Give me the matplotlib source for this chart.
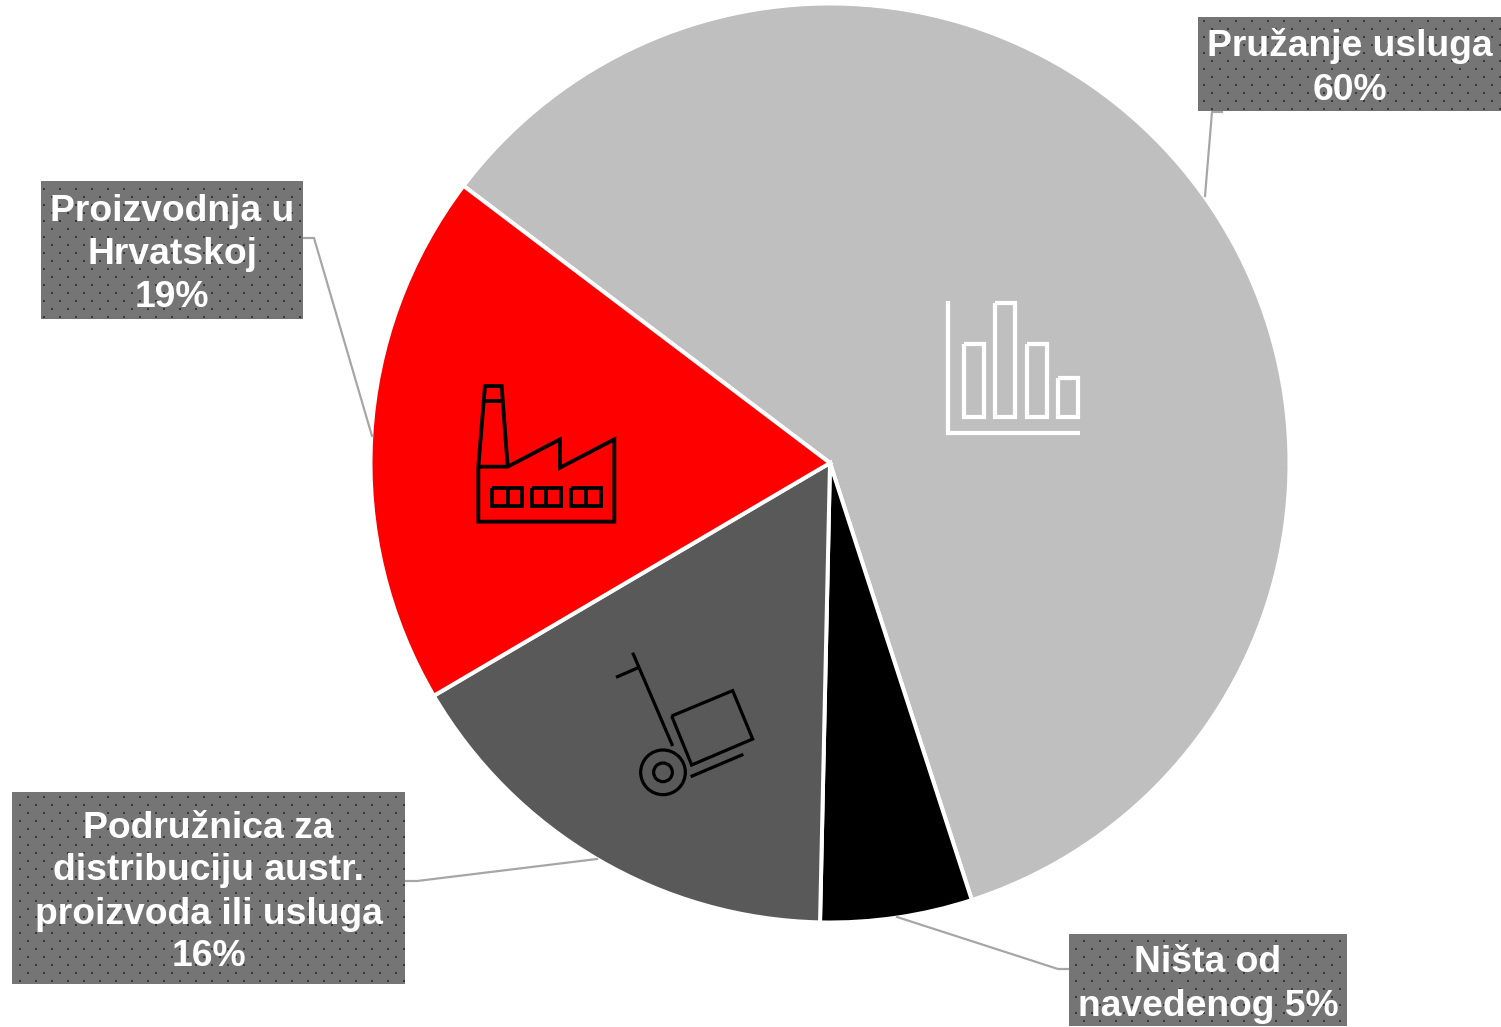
import numpy as np
import matplotlib
matplotlib.use("Agg")
import matplotlib.pyplot as plt
from matplotlib.patches import Rectangle, Circle

# Data
categories = ["Pružanje usluga", "Ništa od navedenog", "Podružnica za distribuciju", "Proizvodnja u Hrvatskoj"]
values = [59.7, 5.34, 16.2, 18.76]
colors = ["#bfbfbf", "#000000", "#595959", "#ff0000"]
label_texts = ["Pružanje usluga\n60%", "Ništa od\nnavedenog 5%",
               "Podružnica za\ndistribuciju austr.\nproizvoda ili usluga\n16%",
               "Proizvodnja u\nHrvatskoj\n19%"]
label_boxes = [(1198, 17, 1501, 111), (1069, 934, 1347, 1026),
               (12, 792, 405, 984), (41, 181, 303, 319)]
leaders = [[(1205, 196), (1212, 112), (1222, 112)],
           [(897, 917), (1058, 969), (1069, 969)],
           [(597, 859), (417, 881), (405, 881)],
           [(372, 436), (314, 238), (303, 238)]]

W, H = 1501, 1027
fig = plt.figure(figsize=(W / 100, H / 100), dpi=100, facecolor="white")
ax = fig.add_axes([0, 0, 1, 1])
px = 0.72  # points per pixel

ax.pie(values, colors=colors, center=(830, 463), radius=459.5, startangle=-142.9,
       counterclock=True, wedgeprops=dict(edgecolor="white", linewidth=4 * px))
ax.set_xlim(0, W)
ax.set_ylim(H, 0)
ax.set_aspect("equal")
ax.axis("off")


def path(points, off, color, lw, closed=False):
    pts = [(off[0] + x / 3, off[1] + y / 3) for x, y in points]
    if closed:
        pts.append(pts[0])
    ax.plot(*zip(*pts), color=color, lw=lw * px, solid_joinstyle="miter",
            solid_capstyle="butt", zorder=5)


# factory icon
o = (460, 370)
c = "black"
path([(55, 290), (75, 48), (125, 48), (143, 290)], o, c, 3.8)
path([(68, 92), (130, 92)], o, c, 3.8)
path([(55, 290), (55, 455), (463, 455), (463, 208), (300, 293), (300, 208), (143, 290)], o, c, 3.8, True)
for a, b, d in [(97, 185, 143), (215, 303, 259), (334, 422, 378)]:
    path([(a, 355), (b, 355), (b, 407), (a, 407)], o, c, 3.8, True)
    path([(d, 355), (d, 407)], o, c, 3.8)

# trolley icon
o = (600, 640)
path([(98, 38), (218, 318)], o, c, 3.2)
path([(48, 112), (115, 83)], o, c, 3.2)
path([(215, 228), (398, 152), (458, 297), (275, 375)], o, c, 3.2, True)
path([(272, 410), (430, 343)], o, c, 3.2)
for r in (67, 28):
    ax.add_patch(Circle((o[0] + 189 / 3, o[1] + 397 / 3), r / 3, fill=False,
                        edgecolor=c, lw=3.2 * px, zorder=5))

# bar chart icon
o = (930, 290)
c = "white"
path([(54, 32), (54, 429), (450, 429)], o, c, 4.2)
for a, b, t in [(101, 161, 162), (196, 255, 38), (290, 350, 162), (385, 445, 263)]:
    path([(a, t), (b, t), (b, 382), (a, 382)], o, c, 4.2, True)

# leaders
for line in leaders:
    ax.plot(*zip(*line), color="#a6a6a6", lw=2.2 * px, zorder=3, solid_joinstyle="miter")

# label boxes with dotted pattern
for (x0, y0, x1, y1), txt in zip(label_boxes, label_texts):
    ax.add_patch(Rectangle((x0, y0), x1 - x0, y1 - y0, facecolor="#757575", edgecolor="none", zorder=6))
    dx, dy = [], []
    for xr, yr in [(3, 4), (11, 12)]:
        xs = np.arange(x0 - (x0 % 16) + xr, x1, 16)
        ys = np.arange(y0 - (y0 % 16) + yr, y1, 16)
        xs = xs[(xs > x0) & (xs < x1 - 1)]
        ys = ys[(ys > y0) & (ys < y1 - 1)]
        gx, gy = np.meshgrid(xs, ys)
        dx.extend(gx.ravel())
        dy.extend(gy.ravel())
    ax.scatter(np.array(dx) + .5, np.array(dy) + .5, s=(2 * px) ** 2, marker="s", color="#383838", linewidths=0, zorder=7)
    lines = txt.split("\n")
    yc = (y0 + y1) / 2 + 1
    for i, ln in enumerate(lines):
        ax.text((x0 + x1) / 2, yc + (i - (len(lines) - 1) / 2) * 43 + 13, ln, color="white",
                ha="center", va="baseline", fontsize=26.8, fontweight="bold",
                family="Liberation Sans", zorder=8)

fig.savefig("out.png", dpi=100, facecolor="white")
